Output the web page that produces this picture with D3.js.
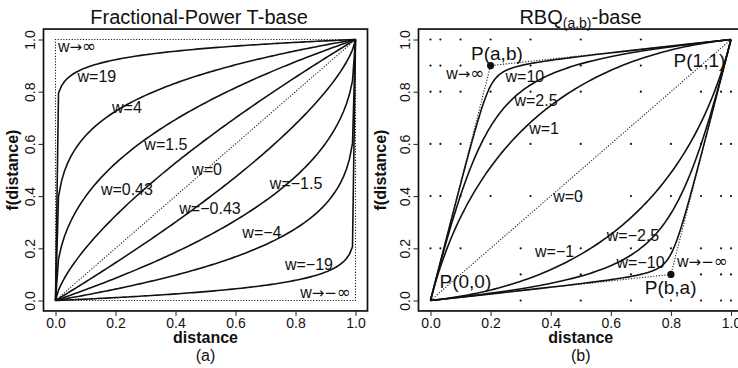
<!DOCTYPE html>
<html>
<head>
<meta charset="utf-8">
<script src="https://cdn.jsdelivr.net/npm/d3@7/dist/d3.min.js"></script>
<style>
  html, body { margin: 0; padding: 0; background: #fff; }
  svg { display: block; font-family: "Liberation Sans", Arial, Helvetica, sans-serif; }
  .tick text { font-size: 14px; fill: #111; }
  .tick line { stroke: #222; stroke-width: 1; }
  .sym { font-family: "DejaVu Sans", sans-serif; }
</style>
</head>
<body>
<svg id="chart" width="738" height="368"></svg>
<script>
// Shared axis ticks
const tickValues = [0, 0.2, 0.4, 0.6, 0.8, 1.0];

// Panel (a): fractional-power T-base exponents
const powerWeights = [19, 4, 1.5, 0.43, -0.43, -1.5, -4, -19];
const powerLabels = ["w=19", "w=4", "w=1.5", "w=0", "w=0.43", "w=\u22121.5", "w=\u22120.43", "w=\u22124", "w=\u221219"];
const powerLabelX = [0.138, 0.238, 0.368, 0.505, 0.238, 0.802, 0.515, 0.688, 0.845];
const powerLabelY = [0.858, 0.739, 0.598, 0.502, 0.425, 0.448, 0.352, 0.261, 0.138];

// Panel (b): rational quadratic Bezier base, control points P(a,b) and P(b,a)
const ctrlPos = [0.2, 0.9];
const ctrlNeg = [0.8, 0.1];
const rbqWeights = [10, 2.5, 1, -1, -2.5, -10];
const rbqLabels = ["w=10", "w=2.5", "w=1", "w=0", "w=\u22121", "w=\u22122.5", "w=\u221210"];
const rbqLabelX = [0.314, 0.351, 0.378, 0.458, 0.413, 0.674, 0.699];
const rbqLabelY = [0.859, 0.768, 0.660, 0.400, 0.190, 0.251, 0.145];
const pointLabels = ["P(a,b)", "P(1,1)", "P(b,a)", "P(0,0)"];
const pointLabelX = [0.221, 0.895, 0.799, 0.116];
const pointLabelY = [0.948, 0.921, 0.052, 0.075];

// Background reference dots in panel (b), one x list per row
const dotRowY = [1.0, 0.9, 0.8, 0.6, 0.4, 0.2, 0.1, 0.0];
const dotRowX = [
  [0, 0.033, 0.1, 0.2, 0.333, 0.5, 0.7],
  [0, 0.033, 0.1, 0.333, 0.5, 0.7],
  [0, 0.033, 0.1, 0.2, 0.333, 0.5, 0.7, 0.9, 0.967, 1],
  [0, 0.033, 0.1, 0.2, 0.333, 0.5, 0.667, 0.8, 0.9, 0.967, 1],
  [0, 0.033, 0.1, 0.2, 0.333, 0.5, 0.667, 0.8, 0.9, 0.967, 1],
  [0, 0.033, 0.1, 0.3, 0.5, 0.667, 0.8, 0.9, 0.967, 1],
  [0.3, 0.5, 0.667, 0.9, 0.967, 1],
  [0.3, 0.5, 0.667, 0.8, 0.9, 0.967, 1]
];

// Parameter grid used to trace every curve
const grid = d3.range(0, 101).map(i => i / 100);

const svg = d3.select("#chart");
const FONT_LABEL = 16;
const y = d3.scaleLinear().domain([0, 1]).range([300.5, 39.5]);
const xA = d3.scaleLinear().domain([0, 1]).range([55.5, 355.5]);
const xB = d3.scaleLinear().domain([0, 1]).range([430.5, 731]);

function powerBase(w) {
  return w >= 0 ? (t => Math.pow(t, 1 / (1 + w)))
                : (t => 1 - Math.pow(1 - t, 1 / (1 - w)));
}

function rbqPoint(w, t) {
  const c = w >= 0 ? ctrlPos : ctrlNeg;
  const k = Math.abs(w);
  const b0 = (1 - t) * (1 - t), b1 = 2 * t * (1 - t) * k, b2 = t * t;
  const den = b0 + b1 + b2;
  return [(b1 * c[0] + b2) / den, (b1 * c[1] + b2) / den];
}

function frame(g, x, sub, ylabX) {
  const left = x(-0.04), right = x(1.04), top = y(1.04), bottom = y(-0.04);
  g.append("rect")
    .attr("x", left).attr("y", top)
    .attr("width", right - left).attr("height", bottom - top)
    .attr("fill", "none").attr("stroke", "#111").attr("stroke-width", 1.7);

  const ax = g.append("g").attr("transform", `translate(0,${bottom})`)
    .call(d3.axisBottom(x).tickValues(tickValues).tickFormat(d3.format(".1f"))
      .tickSize(5).tickPadding(2));
  ax.select(".domain").remove();

  const ay = g.append("g").attr("transform", `translate(${left},0)`)
    .call(d3.axisLeft(y).tickValues(tickValues).tickFormat(d3.format(".1f")).tickSize(5));
  ay.select(".domain").remove();
  ay.selectAll(".tick text")
    .attr("x", null).attr("dy", "0.35em")
    .attr("text-anchor", "middle")
    .attr("transform", "translate(-13.5,0) rotate(-90)");

  const cx = (left + right) / 2;
  g.append("text").attr("x", cx).attr("y", 343)
    .attr("text-anchor", "middle").attr("font-weight", "bold").attr("font-size", 16)
    .attr("fill", "#111").text("distance");
  g.append("text").attr("x", cx).attr("y", 361)
    .attr("text-anchor", "middle").attr("font-size", 16).attr("fill", "#111").text(sub);
  g.append("text")
    .attr("transform", `translate(${ylabX},${(top + bottom) / 2}) rotate(-90)`)
    .attr("dy", "0.35em")
    .attr("text-anchor", "middle").attr("font-weight", "bold").attr("font-size", 16)
    .attr("fill", "#111").text("f(distance)");
}

const line = (x) => d3.line().x(d => x(d[0])).y(d => y(d[1]));

function dotted(g, x, pts) {
  g.append("path").datum(pts).attr("d", line(x))
    .attr("fill", "none").attr("stroke", "#222")
    .attr("stroke-width", 1.1).attr("stroke-dasharray", "1.2,1.6");
}

function solid(g, x, pts) {
  g.append("path").datum(pts).attr("d", line(x))
    .attr("fill", "none").attr("stroke", "#111")
    .attr("stroke-width", 1.6).attr("stroke-linejoin", "round");
}

function label(g, x, text, dx, dy, size, anchor) {
  g.append("text").attr("x", x(dx)).attr("y", y(dy))
    .attr("dy", "0.36em").attr("text-anchor", anchor || "middle")
    .attr("font-size", size).attr("fill", "#111").text(text);
}

// "w → ±∞" limit labels, with the arrow and infinity drawn in a symbol face
function limitLabel(g, x, sign, dx, dy, anchor) {
  const t = g.append("text").attr("x", x(dx)).attr("y", y(dy))
    .attr("dy", "0.36em").attr("text-anchor", anchor || "middle")
    .attr("font-size", FONT_LABEL).attr("fill", "#111");
  t.append("tspan").text("w");
  t.append("tspan").attr("class", "sym").attr("font-size", 15).text("\u2192" + sign);
  t.append("tspan").attr("class", "sym").attr("font-size", 17).text("\u221e");
}

// ---- Panel (a) ----
const gA = svg.append("g");
frame(gA, xA, "(a)", 12);
gA.append("text").attr("x", 199).attr("y", 23.5).attr("text-anchor", "middle")
  .attr("font-size", 20).attr("fill", "#111").text("Fractional-Power T-base");

dotted(gA, xA, [[0, 0], [0, 1], [1, 1]]);
dotted(gA, xA, [[0, 0], [1, 0], [1, 1]]);
dotted(gA, xA, [[0, 0], [1, 1]]);
powerWeights.forEach(w => {
  const f = powerBase(w);
  solid(gA, xA, grid.map(t => [t, f(t)]));
});
limitLabel(gA, xA, "", 0.008, 0.973, "start");
limitLabel(gA, xA, "\u2212", 0.985, 0.03, "end");
powerLabels.forEach((t, i) => label(gA, xA, t, powerLabelX[i], powerLabelY[i], FONT_LABEL));

// ---- Panel (b) ----
const gB = svg.append("g");
frame(gB, xB, "(b)", 380);
const tB = gB.append("text").attr("x", 580.5).attr("y", 23.5).attr("text-anchor", "middle")
  .attr("font-size", 20).attr("fill", "#111");
tB.append("tspan").text("RBQ");
tB.append("tspan").attr("font-size", 14).attr("dy", 4).text("(a,b)");
tB.append("tspan").attr("dy", -4).text("-base");

dotRowY.forEach((ry, i) => {
  gB.selectAll(null).data(dotRowX[i]).enter().append("circle")
    .attr("cx", d => xB(d)).attr("cy", y(ry)).attr("r", 1.1).attr("fill", "#111");
});

dotted(gB, xB, [[0, 0], ctrlPos, [1, 1]]);
dotted(gB, xB, [[0, 0], ctrlNeg, [1, 1]]);
dotted(gB, xB, [[0, 0], [1, 1]]);
rbqWeights.forEach(w => solid(gB, xB, grid.map(t => rbqPoint(w, t))));

gB.selectAll(null).data([ctrlPos, ctrlNeg]).enter().append("circle")
  .attr("cx", d => xB(d[0])).attr("cy", d => y(d[1])).attr("r", 3.6).attr("fill", "#111");

limitLabel(gB, xB, "", 0.116, 0.869);
limitLabel(gB, xB, "\u2212", 0.905, 0.149);
rbqLabels.forEach((t, i) => label(gB, xB, t, rbqLabelX[i], rbqLabelY[i], FONT_LABEL));
pointLabels.forEach((t, i) => label(gB, xB, t, pointLabelX[i], pointLabelY[i], 19));
</script>
</body>
</html>
